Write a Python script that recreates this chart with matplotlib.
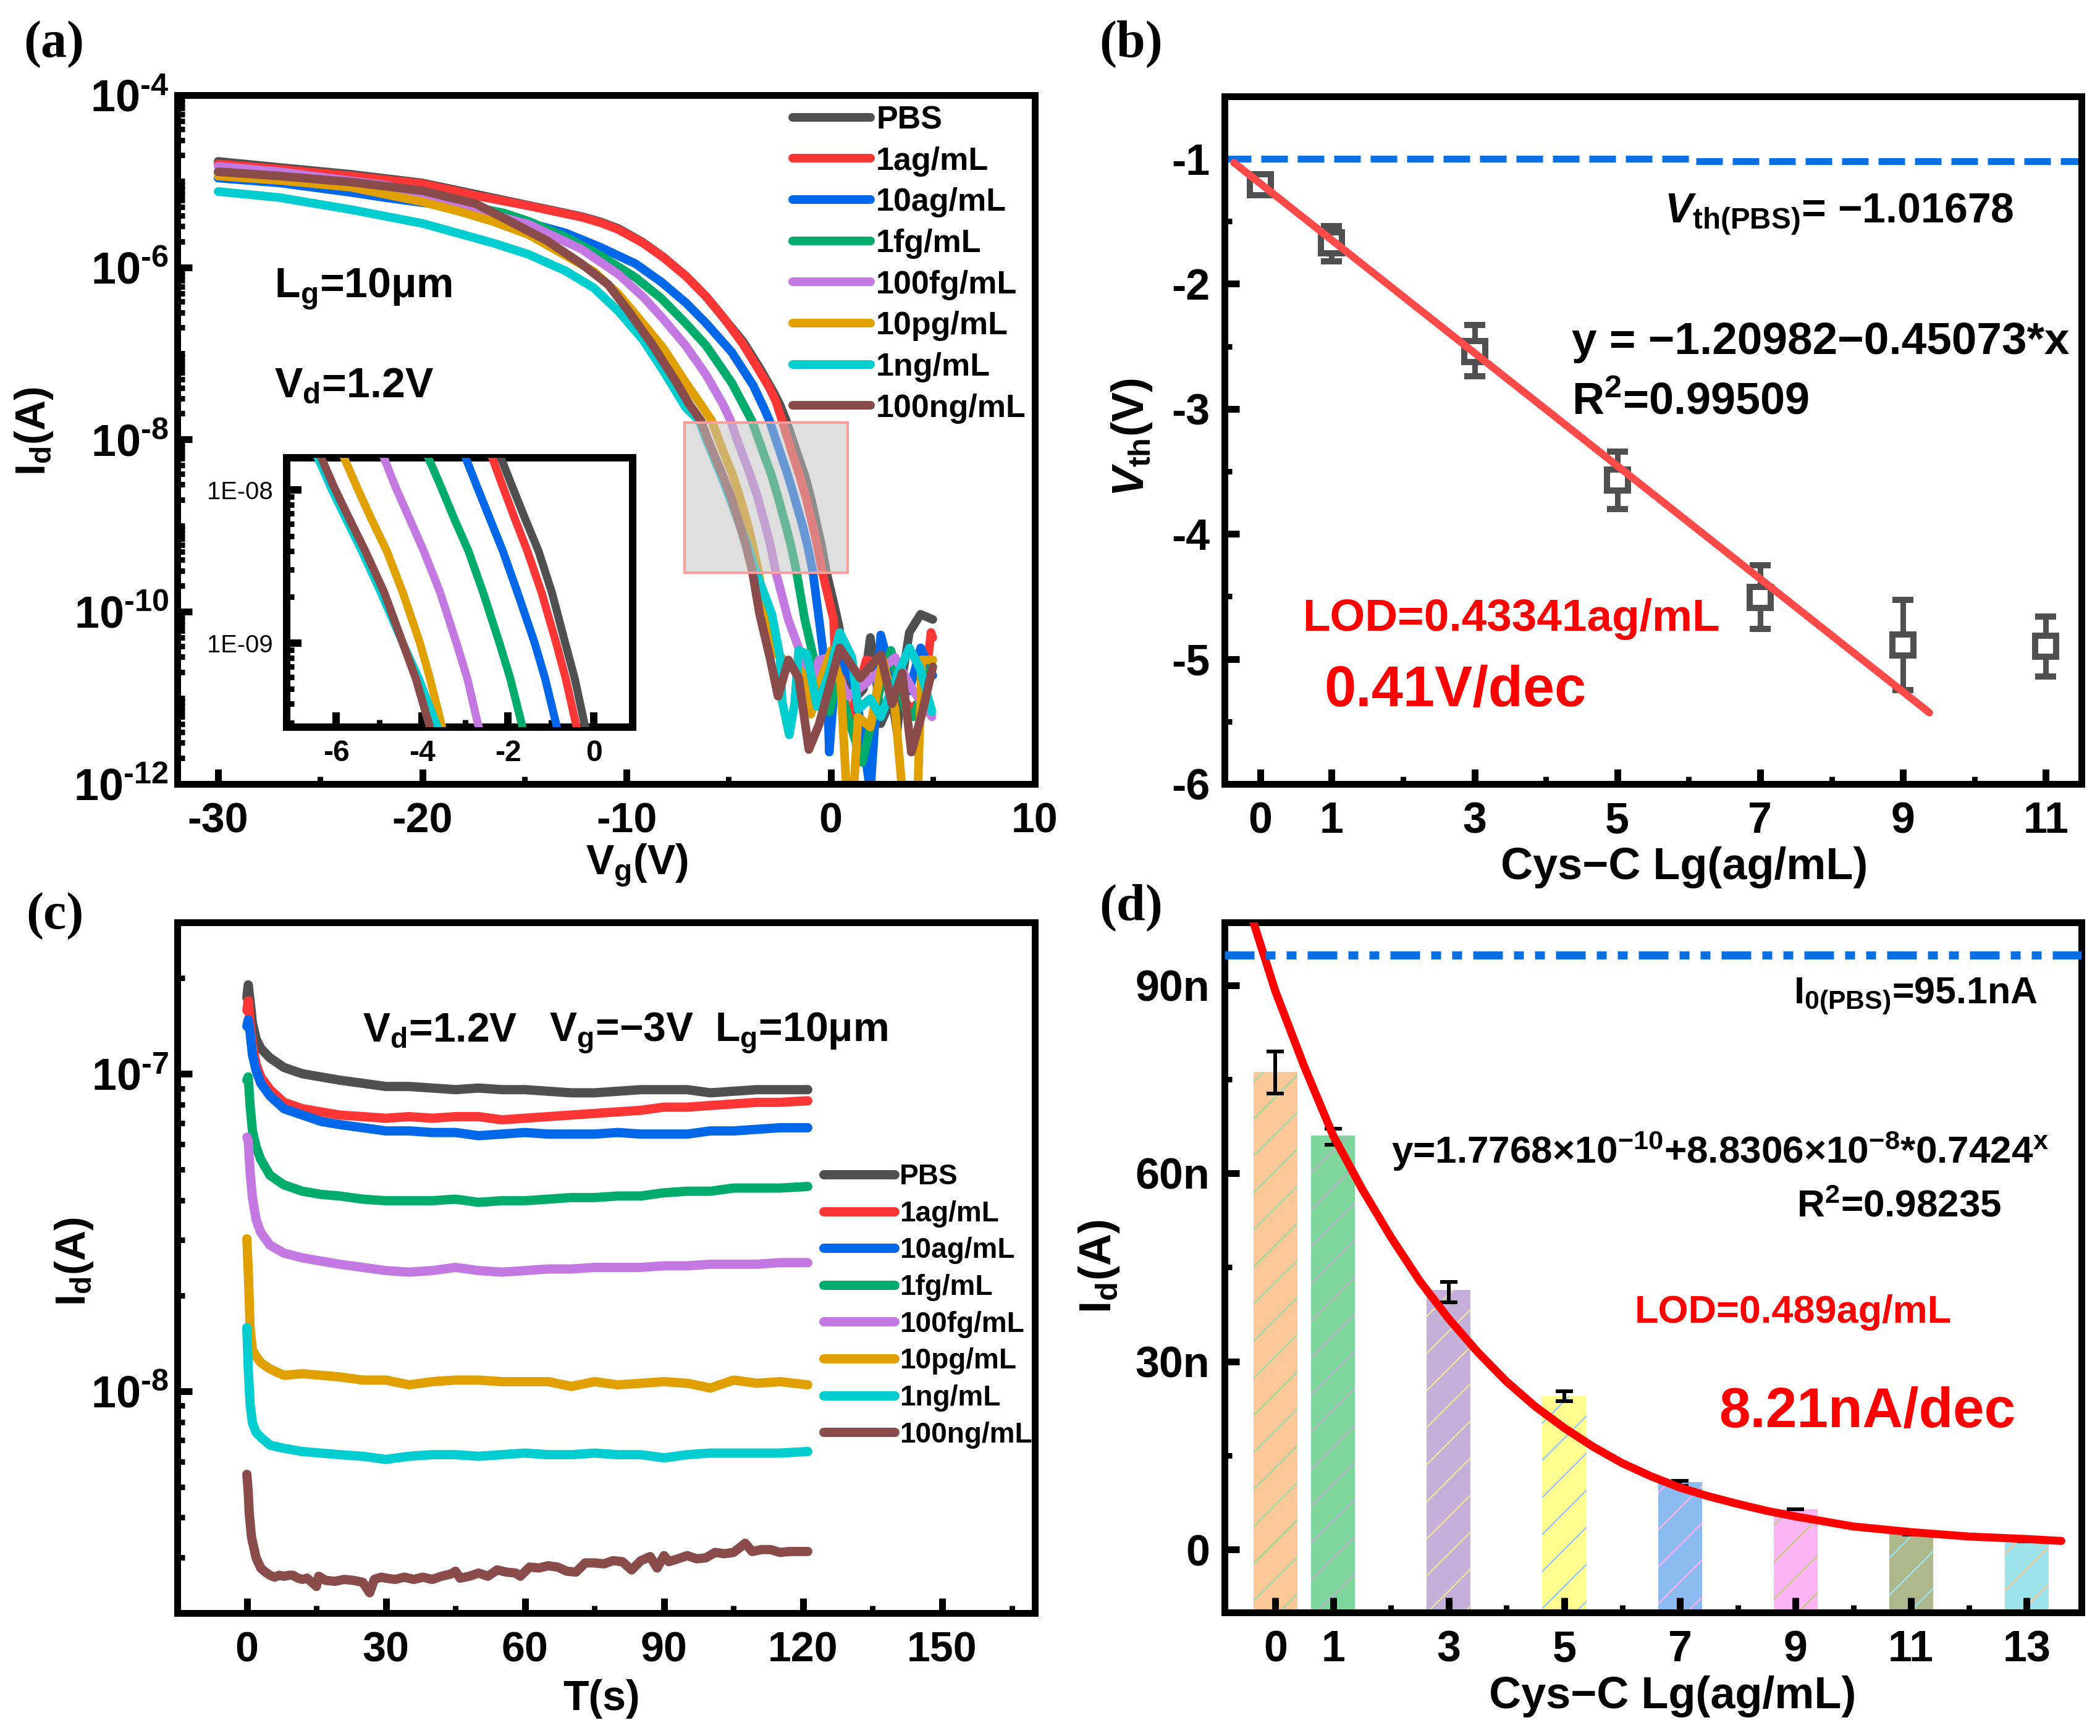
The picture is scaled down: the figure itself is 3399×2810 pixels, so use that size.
#!/usr/bin/env python3
import numpy as np
import matplotlib
matplotlib.use('Agg')
import matplotlib.pyplot as plt
from matplotlib.patches import Rectangle
from matplotlib.ticker import FixedLocator

# dpi 180 gives the hatch spacing of the bars in panel d
W, H, DPI = 3399, 2810, 180


def px(n):
    # sizes below are written in output pixels
    return n * 72 / DPI


plt.rcParams['font.family'] = ['Liberation Sans', 'DejaVu Sans']
plt.rcParams['font.weight'] = 'bold'
plt.rcParams['axes.labelweight'] = 'bold'
plt.rcParams['axes.unicode_minus'] = False
plt.rcParams['mathtext.fontset'] = 'custom'
plt.rcParams['mathtext.rm'] = 'Liberation Sans:bold'
plt.rcParams['mathtext.it'] = 'Liberation Sans:italic:bold'
plt.rcParams['mathtext.bf'] = 'Liberation Sans:bold'
plt.rcParams['mathtext.default'] = 'rm'
plt.rcParams['lines.solid_capstyle'] = 'round'
plt.rcParams['lines.solid_joinstyle'] = 'round'
plt.rcParams['lines.scale_dashes'] = False
plt.rcParams['hatch.linewidth'] = px(2.2)

labels = ['PBS', '1ag/mL', '10ag/mL', '1fg/mL', '100fg/mL', '10pg/mL', '1ng/mL', '100ng/mL']
colors = ['#505050', '#FF3636', '#0068E8', '#00AC6B', '#C479E2', '#DFA000', '#00CDCF', '#8A4B4B']

# (a) transfer curves, gate voltage and log10 of the drain current
va_pbs = [-30, -27, -23.5, -20, -17.4, -14.8, -12.2, -11.3, -10.4, -9.2, -8.2, -7.1, -6.1, -5.2, -4.3, -3.5, -2.8, -2.48, -2.18, -1.90, -1.60, -1.29, -0.98, -0.67, -0.45, -0.22, 0.1, 0.39, 0.7, 1.2, 1.6, 1.94, 2.2, 2.45, 3.0, 3.25, 3.55, 3.85, 4.4, 5.0]
ia_pbs = [-4.77, -4.84, -4.92, -5.02, -5.15, -5.28, -5.41, -5.47, -5.55, -5.71, -5.88, -6.10, -6.34, -6.60, -6.86, -7.16, -7.45, -7.60, -7.78, -7.98, -8.19, -8.40, -8.67, -9.0, -9.23, -9.53, -9.85, -10.15, -10.6, -11.0, -10.9, -10.3, -10.7, -11.3, -11.0, -11.4, -10.7, -10.24, -10.03, -10.09]
va_1ag = [-30, -27, -23.5, -20, -17.4, -14.8, -12.2, -11.3, -10.4, -9.2, -8.2, -7.1, -6.1, -5.2, -4.3, -3.5, -3.0, -2.68, -2.38, -2.12, -1.84, -1.55, -1.22, -0.88, -0.66, -0.42, 0.14, 0.19, 0.55, 0.94, 1.74, 2.45, 3.1, 3.95, 4.56, 4.91, 5.0]
ia_1ag = [-4.80, -4.86, -4.94, -5.03, -5.167, -5.287, -5.418, -5.48, -5.562, -5.717, -5.885, -6.10, -6.34, -6.60, -6.89, -7.2, -7.4, -7.56, -7.78, -7.98, -8.19, -8.40, -8.67, -9.0, -9.23, -9.53, -10.09, -10.39, -10.9, -11.25, -10.56, -10.6, -10.9, -11.13, -11.0, -10.24, -10.3]
va_10ag = [-30, -27, -23.5, -21.7, -17, -15, -13, -11.3, -9.55, -8.3, -7.1, -6.1, -4.85, -3.8, -3.3, -3.0, -2.72, -2.42, -2.12, -1.78, -1.38, -1.14, -0.88, -0.57, -0.37, -0.15, -0.07, 0.19, 0.6, 1.14, 1.6, 1.94, 2.45, 2.95, 3.85, 4.41, 5]
ia_10ag = [-4.964, -5.02, -5.13, -5.195, -5.345, -5.47, -5.60, -5.765, -5.96, -6.17, -6.41, -6.65, -6.985, -7.37, -7.62, -7.78, -7.98, -8.19, -8.40, -8.67, -9.0, -9.23, -9.53, -10.09, -10.47, -11.0, -11.63, -10.83, -10.6, -10.83, -11.5, -12.1, -10.27, -10.71, -10.92, -10.42, -10.74]
va_1fg = [-30, -25, -20, -16, -14.8, -13, -11.3, -9.55, -8.3, -7.1, -6.1, -4.85, -4.0, -3.87, -3.56, -3.25, -2.92, -2.58, -2.2, -1.95, -1.68, -1.27, -0.87, -0.07, 0.34, 1.04, 1.54, 2.15, 2.95, 3.65, 4.05, 4.96]
ia_1fg = [-4.90, -5.02, -5.18, -5.37, -5.465, -5.645, -5.86, -6.12, -6.36, -6.65, -6.91, -7.34, -7.72, -7.78, -7.98, -8.19, -8.40, -8.67, -9.0, -9.23, -9.53, -10.09, -10.5, -11.16, -10.8, -11.37, -11.75, -11.13, -10.45, -11.13, -11.22, -10.62]
va_100fg = [-30, -27, -21.7, -18.2, -14.8, -13.9, -12.2, -10.4, -9.2, -8.2, -7.1, -6.1, -5.3, -4.90, -4.62, -4.29, -3.96, -3.58, -3.2, -2.95, -2.70, -2.08, -1.57, -1.17, -0.57, -0.07, 0.84, 1.74, 3.15, 4.05, 4.96]
ia_100fg = [-4.827, -4.89, -5.05, -5.287, -5.50, -5.60, -5.79, -6.08, -6.34, -6.60, -6.91, -7.25, -7.58, -7.78, -7.98, -8.19, -8.40, -8.67, -9.0, -9.23, -9.53, -10.09, -10.42, -11.04, -10.56, -10.53, -10.98, -10.83, -10.53, -10.92, -11.22]
va_10pg = [-30, -27, -23.5, -20, -18.2, -16.5, -14.8, -13, -11.6, -10.4, -9.2, -8.2, -7.1, -6.4, -5.83, -5.52, -5.18, -4.82, -4.45, -4.05, -3.82, -3.55, -3.2, -2.6, -2.07, -1.37, -0.97, -0.5, 0.03, 0.49, 0.8, 1.1, 1.34, 1.94, 2.55, 3.15, 3.55, 4.25, 4.46, 5]
ia_10pg = [-4.94, -4.99, -5.07, -5.24, -5.35, -5.47, -5.62, -5.86, -6.05, -6.31, -6.65, -6.94, -7.34, -7.58, -7.78, -7.98, -8.19, -8.40, -8.67, -9.0, -9.23, -9.53, -10.0, -10.5, -10.6, -10.71, -11.19, -10.8, -10.45, -10.83, -12.2, -12.2, -11.22, -11.34, -10.56, -11.13, -12.2, -12.2, -10.56, -10.56]
va_1ng = [-30, -27, -23.5, -20, -16.5, -14.8, -13, -11.6, -10.4, -9.2, -8.2, -7.1, -6.44, -6.13, -5.77, -5.40, -4.96, -4.45, -4.08, -3.67, -2.88, -2.48, -2.38, -2.03, -1.77, -1.57, -1.17, -0.67, -0.07, 0.44, 1.04, 1.34, 1.94, 2.45, 3.05, 3.85, 4.36, 4.96]
ia_1ng = [-5.12, -5.19, -5.33, -5.49, -5.72, -5.85, -6.04, -6.24, -6.51, -6.84, -7.2, -7.63, -7.78, -7.98, -8.19, -8.40, -8.67, -9.0, -9.23, -9.53, -10.03, -10.53, -11.04, -11.43, -11.07, -10.45, -10.49, -11.1, -10.71, -10.24, -10.53, -11.13, -11.01, -11.22, -10.86, -10.42, -10.65, -11.16]
va_100ng = [-30, -27, -23.5, -20, -17.4, -15.6, -13.9, -12.2, -10.9, -9.9, -8.7, -7.6, -6.9, -6.36, -6.05, -5.69, -5.32, -4.88, -4.45, -4.15, -3.84, -3.48, -2.98, -2.58, -2.07, -1.57, -1.07, -0.57, 0.44, 1.44, 2.45, 3.0, 3.5, 3.95, 4.46, 5.0]
ia_100ng = [-4.89, -4.94, -5.01, -5.11, -5.26, -5.48, -5.69, -5.96, -6.2, -6.51, -6.91, -7.32, -7.6, -7.78, -7.98, -8.19, -8.40, -8.67, -9.0, -9.23, -9.53, -10.03, -10.53, -10.98, -10.56, -10.77, -11.6, -11.31, -10.42, -10.77, -10.5, -11.07, -10.71, -11.63, -11.19, -10.64]

# (b) threshold voltage against concentration
vth_x = [0, 1, 3, 5, 7, 9, 11]
vth_y = [-1.205, -1.67, -2.54, -3.57, -4.51, -4.89, -4.90]
vth_hi = [-1.13, -1.54, -2.33, -3.34, -4.25, -4.53, -4.66]
vth_lo = [-1.28, -1.82, -2.74, -3.80, -4.76, -5.25, -5.14]
vfit_x = [-0.37, 9.37]
vfit_y = [-1.03, -5.43]
vref_x = [-0.5, 6.1, 6.1, 11.5]
vref_y = [-1.0, -1.0, -1.017, -1.017]

# (c) time traces, log10 of the drain current
tc = [0, 0.3, 0.7, 1.2, 2, 3, 5, 8, 12, 16, 20, 25, 30, 35, 40, 45, 50, 55, 60, 65, 70, 75, 80, 85, 90, 95, 100, 105, 110, 115, 121]
ic_pbs = [-6.76, -6.72, -6.77, -6.84, -6.89, -6.92, -6.95, -6.98, -7.00, -7.01, -7.02, -7.03, -7.04, -7.04, -7.045, -7.05, -7.045, -7.05, -7.05, -7.055, -7.06, -7.06, -7.055, -7.05, -7.05, -7.05, -7.06, -7.055, -7.05, -7.05, -7.05]
ic_1ag = [-6.80, -6.77, -6.84, -6.91, -6.97, -7.01, -7.05, -7.09, -7.11, -7.12, -7.13, -7.135, -7.14, -7.135, -7.14, -7.135, -7.135, -7.145, -7.14, -7.135, -7.13, -7.125, -7.12, -7.115, -7.105, -7.105, -7.10, -7.095, -7.09, -7.09, -7.085]
ic_10ag = [-6.85, -6.83, -6.87, -6.94, -6.99, -7.03, -7.07, -7.11, -7.13, -7.15, -7.16, -7.17, -7.18, -7.18, -7.185, -7.185, -7.195, -7.19, -7.185, -7.19, -7.19, -7.19, -7.185, -7.19, -7.19, -7.19, -7.18, -7.18, -7.175, -7.17, -7.17]
ic_1fg = [-7.02, -7.01, -7.10, -7.18, -7.23, -7.27, -7.32, -7.35, -7.37, -7.38, -7.385, -7.395, -7.40, -7.40, -7.40, -7.395, -7.405, -7.40, -7.40, -7.395, -7.39, -7.39, -7.385, -7.385, -7.375, -7.37, -7.37, -7.36, -7.36, -7.36, -7.355]
ic_100fg = [-7.20, -7.21, -7.31, -7.39, -7.46, -7.50, -7.54, -7.565, -7.58, -7.59, -7.60, -7.61, -7.62, -7.625, -7.62, -7.61, -7.62, -7.625, -7.62, -7.615, -7.615, -7.61, -7.61, -7.61, -7.605, -7.605, -7.60, -7.60, -7.60, -7.595, -7.595]
ic_10pg = [-7.52, -7.62, -7.80, -7.87, -7.89, -7.91, -7.93, -7.95, -7.945, -7.95, -7.955, -7.965, -7.965, -7.98, -7.97, -7.965, -7.965, -7.97, -7.97, -7.97, -7.985, -7.97, -7.98, -7.975, -7.97, -7.975, -7.99, -7.965, -7.975, -7.97, -7.98]
ic_1ng = [-7.80, -7.93, -8.04, -8.10, -8.13, -8.145, -8.17, -8.18, -8.19, -8.195, -8.20, -8.205, -8.215, -8.205, -8.20, -8.20, -8.205, -8.20, -8.195, -8.20, -8.20, -8.195, -8.20, -8.20, -8.21, -8.20, -8.195, -8.195, -8.195, -8.195, -8.19]
# the 100ng trace is noisy enough to need its own finer time base
tc_100ng = [0, 0.3, 0.5, 1, 2, 3, 4, 5, 6, 7, 8, 9, 10, 11, 12, 13, 14, 15, 15.5, 17, 19, 21, 23, 25, 26.5, 27.5, 29, 30, 32, 34, 36, 38, 40, 42, 44, 45, 46, 48, 50, 52, 54, 56, 58, 59, 61, 63, 65, 67, 69, 71, 73, 75, 77, 79, 81, 83, 85, 87, 88.5, 90, 91, 93, 95, 97, 99, 101, 103, 105, 107.5, 109, 111, 113, 115, 117, 119, 121]
ic_100ng = [-8.262, -8.317, -8.382, -8.46, -8.525, -8.557, -8.57, -8.58, -8.586, -8.58, -8.583, -8.58, -8.58, -8.589, -8.593, -8.589, -8.602, -8.615, -8.583, -8.596, -8.599, -8.593, -8.596, -8.602, -8.635, -8.593, -8.586, -8.589, -8.593, -8.586, -8.593, -8.586, -8.593, -8.583, -8.576, -8.567, -8.589, -8.583, -8.573, -8.583, -8.563, -8.57, -8.573, -8.583, -8.554, -8.557, -8.55, -8.554, -8.567, -8.57, -8.541, -8.541, -8.544, -8.534, -8.537, -8.563, -8.534, -8.521, -8.557, -8.518, -8.537, -8.528, -8.518, -8.528, -8.525, -8.508, -8.512, -8.508, -8.479, -8.505, -8.499, -8.499, -8.508, -8.505, -8.505, -8.505]

# (d) bars in nA with error bars and the fit
bar_x = [0, 1, 3, 5, 7, 9, 11, 13]
bar_h = [76.2, 66, 41.4, 24.5, 10.8, 6.4, 2.7, 1.4]
bar_err_hi = [79.4, 67.1, 42.7, 25.3, 11.0, 6.4, 2.8, 1.5]
bar_err_lo = [72.7, 64.5, 39.4, 23.7, 10.2, 6.4, 2.4, 1.3]
bar_colors = ['#FDC898', '#7FD69C', '#C4B0D8', '#FFFF8F', '#8CBBF0', '#FBB4F3', '#AEB88C', '#9FE3EA']
hatch_colors = ['#A3D8A5', '#B8B0C8', '#EFE5A8', '#9CC4F0', '#F4B6EE', '#C6C68C', '#A4E4E8', '#F5C89A']
dfit_x = [-0.38, 0, 0.5, 1, 1.5, 2, 2.5, 3, 3.5, 4, 4.5, 5, 5.5, 6, 6.5, 7, 7.5, 8, 8.5, 9, 10, 11, 12, 13, 13.6]
dfit_y = [100, 89, 77, 66, 57.5, 49.8, 42.8, 36.8, 31.5, 26.8, 22.8, 19.4, 16.4, 13.8, 11.7, 9.9, 8.5, 7.3, 6.2, 5.3, 3.7, 2.8, 2.1, 1.7, 1.4]
dref_x = [-0.88, 13.95]
dref_y = [94.8, 94.8]

fig = plt.figure(figsize=((W + 0.1) / DPI, (H + 0.1) / DPI), dpi=DPI)


def box(l, t, r, b):
    return fig.add_axes([l / W, 1 - b / H, (r - l) / W, (b - t) / H])


def put(x, y, s, size, **kw):
    fig.text(x / W, 1 - y / H, s, fontsize=px(size), va='baseline', **kw)


def frame(ax, tick=68, pad_x=28, pad_y=14, lw=11):
    for s in ax.spines.values():
        s.set_linewidth(px(lw))
    ax.tick_params(which='major', direction='in', length=px(24), width=px(lw), labelsize=px(tick), top=False, right=False)
    ax.tick_params(which='minor', direction='in', length=px(12), width=px(9), top=False, right=False)
    ax.tick_params(axis='x', which='major', pad=px(pad_x))
    ax.tick_params(axis='y', which='major', pad=px(pad_y))


def axis_labels(ax, xlabel, ylabel, xc, yc_x, xl_y, yl_x, size=68):
    ax.set_xlabel(xlabel, fontsize=px(size), va='center', ha='center')
    ax.xaxis.set_label_coords(xc / W, 1 - xl_y / H, transform=fig.transFigure)
    ax.set_ylabel(ylabel, fontsize=px(size), va='center', ha='center')
    ax.yaxis.set_label_coords(yl_x / W, 1 - yc_x / H, transform=fig.transFigure)


def side_legend(ax, x, y, size, handle, spacing):
    ax.legend(loc='upper left', bbox_to_anchor=(x / W, 1 - y / H), bbox_transform=fig.transFigure,
              frameon=False, fontsize=px(size), handlelength=handle, handletextpad=0.18,
              labelspacing=spacing, borderpad=0, borderaxespad=0)


va_all = [va_pbs, va_1ag, va_10ag, va_1fg, va_100fg, va_10pg, va_1ng, va_100ng]
ia_all = [ia_pbs, ia_1ag, ia_10ag, ia_1fg, ia_100fg, ia_10pg, ia_1ng, ia_100ng]
tc_all = [tc, tc, tc, tc, tc, tc, tc, tc_100ng]
ic_all = [ic_pbs, ic_1ag, ic_10ag, ic_1fg, ic_100fg, ic_10pg, ic_1ng, ic_100ng]

# panel a
ax = box(287, 154, 1675, 1269)
for v, i, c, lab in zip(va_all, ia_all, colors, labels):
    ax.plot(v, 10.0 ** np.array(i), color=c, lw=px(14), label=lab)
ax.set_yscale('log')
ax.set_xlim(-32, 10)
ax.set_ylim(1e-12, 1e-4)
ax.set_xticks(np.arange(-30, 11, 10))
ax.xaxis.set_minor_locator(FixedLocator(np.arange(-30, 11, 5)))
ax.yaxis.set_major_locator(FixedLocator([10.0 ** e for e in range(-12, -3, 2)]))
ax.yaxis.set_minor_locator(FixedLocator([k * 10.0 ** e for e in range(-12, -4) for k in range(1, 10)]))
ax.yaxis.set_minor_formatter(plt.NullFormatter())
ax.set_yticklabels(['$10^{\u2010%d}$' % e for e in range(12, 3, -2)])
frame(ax)
ax.tick_params(axis='y', which='major', labelsize=px(72))
axis_labels(ax, '$V_g$(V)', '$I_d$(A)', 1031, 698, 1400, 55)
side_legend(ax, 1283, 170, 52, 2.42, 0.34)
ax.add_patch(Rectangle((-7.15, 10 ** -9.55), 7.98, 10 ** -7.8 - 10 ** -9.55, facecolor='#C2C2C2',
                       alpha=0.54, edgecolor='none', zorder=4))
ax.add_patch(Rectangle((-7.15, 10 ** -9.55), 7.98, 10 ** -7.8 - 10 ** -9.55, facecolor='none',
                       edgecolor='#FF9C9C', lw=px(4), zorder=5))
put(444, 481, '$L_g$=10μm', 68)
put(444, 643, '$V_d$=1.2V', 68)
put(38, 92, '(a)', 84, family=['Liberation Serif'])

# inset of panel a
ins = box(464, 741, 1024, 1177)
for v, i, c in zip(va_all, ia_all, colors):
    ins.plot(v, 10.0 ** np.array(i), color=c, lw=px(13), zorder=3)
ins.set_yscale('log')
ins.set_xlim(-7.15, 0.9)
ins.set_ylim(10 ** -9.55, 10 ** -7.79)
ins.set_xticks([-6, -4, -2, 0])
ins.xaxis.set_minor_locator(FixedLocator([-5, -3, -1]))
ins.yaxis.set_major_locator(FixedLocator([1e-9, 1e-8]))
ins.yaxis.set_minor_locator(FixedLocator([k * 10.0 ** e for e in (-10, -9, -8) for k in range(2, 10)]))
ins.yaxis.set_minor_formatter(plt.NullFormatter())
ins.set_yticklabels(['1E-09', '1E-08'], fontweight='normal')
frame(ins, tick=48, pad_x=20, pad_y=22, lw=12)
ins.tick_params(axis='y', which='major', labelsize=px(40))

# panel b
ax = box(1982, 156, 3369, 1269)
ax.plot(vref_x, vref_y, color='#0A6FE0', lw=px(11), ls=(0, (px(43), px(16))), dash_capstyle='butt')
ax.plot(vfit_x, vfit_y, color='#FF4A4A', lw=px(12), zorder=4)
ax.errorbar(vth_x, vth_y, yerr=[np.array(vth_y) - np.array(vth_lo), np.array(vth_hi) - np.array(vth_y)],
            fmt='s', color='#505050', mfc='white', mec='#505050', ms=px(34), mew=px(10),
            elinewidth=px(9), capsize=px(17), capthick=px(9), zorder=3)
ax.set_xlim(-0.5, 11.5)
ax.set_ylim(-6, -0.5)
ax.set_xticks(vth_x)
ax.xaxis.set_minor_locator(FixedLocator([2, 4, 6, 8, 10]))
ax.set_yticks([-6, -5, -4, -3, -2, -1])
ax.yaxis.set_minor_locator(FixedLocator(np.arange(-5.5, -0.5, 1)))
frame(ax, tick=70, pad_x=28, pad_y=24)
axis_labels(ax, 'Cys\u2212C Lg(ag/mL)', '$\\mathit{V}_{th}$(V)', 2726, 708, 1404, 1832, size=72)
put(2694, 360, '$\\mathit{V}_{th(PBS)}$= \u22121.01678', 68)
put(2544, 573, 'y = \u22121.20982\u22120.45073*x', 73)
put(2544, 670, 'R$^2$=0.99509', 72)
put(2108, 1021, 'LOD=0.43341ag/mL', 73, color='#FF0000')
put(2143, 1143, '0.41V/dec', 92, color='#FF0000')
put(1779, 92, '(b)', 84, family=['Liberation Serif'])

# panel c
ax = box(287, 1493, 1675, 2611)
for t, i, c, lab in zip(tc_all, ic_all, colors, labels):
    ax.plot(t, 10.0 ** np.array(i), color=c, lw=px(15), label=lab)
ax.set_yscale('log')
ax.set_xlim(-15, 170)
ax.set_ylim(2e-9, 3e-7)
ax.set_xticks(np.arange(0, 151, 30))
ax.xaxis.set_minor_locator(FixedLocator(np.arange(15, 166, 30)))
ax.yaxis.set_major_locator(FixedLocator([1e-8, 1e-7]))
ax.yaxis.set_minor_locator(FixedLocator([k * 10.0 ** e for e in (-9, -8, -7) for k in range(2, 10)]))
ax.yaxis.set_minor_formatter(plt.NullFormatter())
ax.set_yticklabels(['$10^{\u20108}$', '$10^{\u20107}$'])
frame(ax)
ax.tick_params(axis='y', which='major', labelsize=px(72))
axis_labels(ax, 'T(s)', '$I_d$(A)', 974, 2042, 2750, 120)
side_legend(ax, 1333, 1883, 46, 2.5, 0.34)
put(587, 1685, '$V_d$=1.2V', 66)
put(889, 1685, '$V_g$=\u22123V', 66)
put(1157, 1685, '$L_g$=10μm', 66)
put(42, 1503, '(c)', 84, family=['Liberation Serif'])

# panel d
ax = box(1982, 1493, 3369, 2610)
y0 = -10
for x, h, c, hc in zip(bar_x, bar_h, bar_colors, hatch_colors):
    ax.bar(x, h - y0, bottom=y0, width=0.76, facecolor=c, edgecolor=hc, hatch='/', lw=0)
ax.errorbar(bar_x, bar_h, yerr=[np.array(bar_h) - np.array(bar_err_lo), np.array(bar_err_hi) - np.array(bar_h)],
            fmt='none', ecolor='black', elinewidth=px(6), capsize=px(14), capthick=px(6), zorder=3)
ax.plot(dfit_x, dfit_y, color='#FF0000', lw=px(13), zorder=4)
ax.plot(dref_x, dref_y, color='#0A6FE0', lw=px(13), ls=(0, (px(48), px(18), px(16), px(18), px(16), px(18))), dash_capstyle='butt', zorder=4)
ax.set_xlim(-0.88, 13.95)
ax.set_ylim(-10, 100)
ax.set_xticks(bar_x)
ax.xaxis.set_minor_locator(FixedLocator([2, 4, 6, 8, 10, 12]))
ax.set_yticks([0, 30, 60, 90])
ax.set_yticklabels(['0', '30n', '60n', '90n'])
ax.yaxis.set_minor_locator(FixedLocator([15, 45, 75]))
frame(ax, tick=70, pad_x=28, pad_y=24)
axis_labels(ax, 'Cys\u2212C Lg(ag/mL)', '$I_d$(A)', 2707, 2050, 2746, 1779, size=72)
put(2903, 1624, '$I_{0(PBS)}$=95.1nA', 61)
put(2252, 1883, 'y=1.7768\u00d710$^{\u221210}$+8.8306\u00d710$^{\u22128}$*0.7424$^x$', 62)
put(2908, 1969, 'R$^2$=0.98235', 62)
put(2646, 2141, 'LOD=0.489ag/mL', 63, color='#FF0000')
put(2782, 2310, '8.21nA/dec', 91, color='#FF0000')
put(1779, 1490, '(d)', 84, family=['Liberation Serif'])

fig.savefig('out.png', dpi=DPI)
